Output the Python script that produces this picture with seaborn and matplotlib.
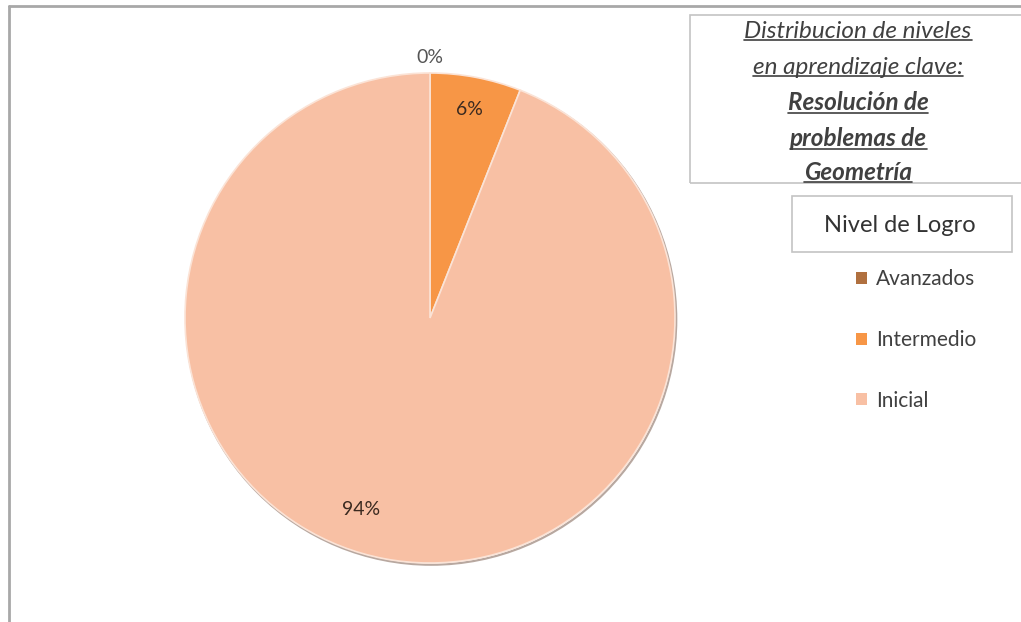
import matplotlib
matplotlib.use("Agg")
import matplotlib.pyplot as plt
import seaborn as sns
import numpy as np
from matplotlib.patches import Rectangle, Patch
from matplotlib.lines import Line2D

# datos
niveles = ['Avanzados', 'Intermedio', 'Inicial']
porcentajes = [0, 6, 94]
colores = ['#B0703F', '#F79646', '#F8C0A4']
titulo = [('Distribucion de niveles', 'normal'),
          ('en aprendizaje clave:', 'normal'),
          ('Resolución de', 'bold'),
          ('problemas de', 'bold'),
          ('Geometría', 'bold')]
titulo_leyenda = 'Nivel de Logro'

sns.set_theme(style='white')
plt.rcParams['font.family'] = ['Lato', 'DejaVu Sans']

W, H = 1021, 622
fig = plt.figure(figsize=(W / 100, H / 100), dpi=100)
fig.patch.set_facecolor('white')

def fx(px):
    return px / W

def fy(py):
    return 1 - py / H

# pastel
cx, cy, r = 430, 318, 245
ax = fig.add_axes([fx(cx - r), fy(cy + r), fx(2 * r), (2 * r) / H])
wedges, _ = ax.pie(porcentajes, colors=colores, startangle=90, counterclock=False,
                   radius=1, wedgeprops=dict(edgecolor='#FBE3D6', linewidth=1.2))
ax.set_xlim(-1, 1)
ax.set_ylim(-1, 1)
ax.axis('off')
ax.add_patch(plt.Circle((0.005, -0.007), 1.0, fill=False, edgecolor='#B8A8A0',
                        linewidth=1.6, zorder=0, clip_on=False))

# etiquetas de porcentaje (distancia al centro y pequeño giro, como en Excel)
dist = [1.065, 0.865, 0.83]
giro = [0, 0, -9]
for w, p, d, g in zip(wedges, porcentajes, dist, giro):
    ang = np.deg2rad((w.theta1 + w.theta2) / 2 + g)
    color = '#555555' if p == 0 else '#3B2A20'
    ax.text(d * np.cos(ang), d * np.sin(ang), f'{p}%', ha='center', va='center',
            fontsize=14, color=color, clip_on=False)

# bordes del grafico
fig.add_artist(Line2D([fx(9), fx(9)], [fy(6), 0], color='#A8A8A8', lw=2))
fig.add_artist(Line2D([fx(9), 1], [fy(6), fy(6)], color='#A8A8A8', lw=2))

# cuadro del titulo
fig.add_artist(Rectangle((fx(690), fy(183)), fx(340), (183 - 15) / H, fill=False,
                         edgecolor='#C4C4C4', lw=1.2))
fig.canvas.draw()
renderer = fig.canvas.get_renderer()
ys = [31, 67, 103, 139, 172]
for (linea, peso), yy in zip(titulo, ys):
    t = fig.text(fx(858), fy(yy), linea, ha='center', va='center', fontsize=17.5,
                 style='italic', weight=peso, color='#404040')
    bb = t.get_window_extent(renderer)
    yl = bb.y0 + 2
    fig.add_artist(Line2D([bb.x0 / W, bb.x1 / W], [yl / H, yl / H],
                          color='#404040', lw=1.2))

# leyenda
fig.add_artist(Rectangle((fx(792), fy(252)), fx(220), 56 / H, fill=False,
                         edgecolor='#C4C4C4', lw=1.2))
fig.text(fx(900), fy(225), titulo_leyenda, ha='center', va='center', fontsize=17,
         color='#333333')
handles = [Patch(facecolor=c, edgecolor='none') for c in colores]
fig.legend(handles, niveles, loc='upper left', bbox_to_anchor=(fx(846), fy(259)),
           frameon=False, fontsize=15, labelcolor='#404040', handlelength=0.5,
           handleheight=0.5, handletextpad=0.45, labelspacing=1.95, borderpad=0)

fig.savefig('out.png', dpi=100, facecolor='white')
